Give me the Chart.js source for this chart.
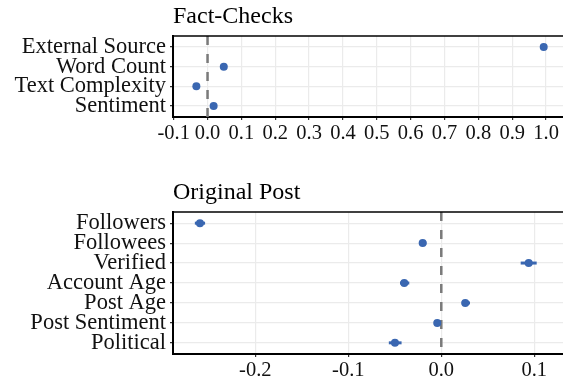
<!DOCTYPE html>
<html>
<head>
<meta charset="utf-8">
<script src="https://cdn.jsdelivr.net/npm/chart.js@4"></script>
<style>
  html, body { margin: 0; padding: 0; background: #fff; }
  #wrap { position: relative; width: 563px; height: 382px; overflow: hidden; }
  canvas { position: absolute; left: 0; }
  #factChart { top: 0; }
  #postChart { top: 176px; }
</style>
</head>
<body>
<div id="wrap">
  <canvas id="factChart" width="563" height="160"></canvas>
  <canvas id="postChart" width="563" height="206"></canvas>
</div>
<script>
// ----------------------
// Data
// ----------------------
const factLabels = ['External Source', 'Word Count', 'Text Complexity', 'Sentiment'];
const factEst  = [0.993, 0.048, -0.033, 0.018];
const factLow  = [0.990, 0.045, -0.036, 0.015];
const factHigh = [0.996, 0.051, -0.030, 0.021];
const factTicks = [-0.1, 0.0, 0.1, 0.2, 0.3, 0.4, 0.5, 0.6, 0.7, 0.8, 0.9, 1.0];

const postLabels = ['Followers', 'Followees', 'Verified', 'Account Age', 'Post Age', 'Post Sentiment', 'Political'];
const postEst  = [-0.2595, -0.0200, 0.0940, -0.0398, 0.0258, -0.0043, -0.0498];
const postLow  = [-0.2650, -0.0240, 0.0854, -0.0444, 0.0219, -0.0080, -0.0564];
const postHigh = [-0.2540, -0.0160, 0.1026, -0.0344, 0.0309, -0.0006, -0.0427];
const postTicks = [-0.2, -0.1, 0.0, 0.1];

const dotColor = '#3a67b1';
const fontFamily = "'Liberation Serif', 'Times New Roman', serif";

// ----------------------
// Extra drawing: error bars, zero line, top border
// ----------------------
const panelExtras = {
  id: 'panelExtras',
  beforeDatasetsDraw(chart, args, opts) {
    const { ctx, chartArea, scales: { x, y } } = chart;
    ctx.save();
    // dashed reference line at 0
    const x0 = x.getPixelForValue(0);
    ctx.strokeStyle = '#7a7a7a';
    ctx.lineWidth = 2.5;
    ctx.setLineDash([9, 9]);
    ctx.beginPath();
    ctx.moveTo(x0, chartArea.top);
    ctx.lineTo(x0, chartArea.bottom);
    ctx.stroke();
    ctx.setLineDash([]);
    // horizontal error bars
    ctx.strokeStyle = dotColor;
    ctx.lineWidth = 3;
    opts.low.forEach((lo, i) => {
      const py = y.getPixelForValue(i);
      ctx.beginPath();
      ctx.moveTo(x.getPixelForValue(lo), py);
      ctx.lineTo(x.getPixelForValue(opts.high[i]), py);
      ctx.stroke();
    });
    ctx.restore();
  },
  afterDraw(chart) {
    const { ctx, chartArea } = chart;
    ctx.save();
    ctx.strokeStyle = '#000';
    ctx.lineWidth = 1.3;
    ctx.beginPath();
    ctx.moveTo(chartArea.left - 1, chartArea.top);
    ctx.lineTo(chartArea.right, chartArea.top);
    ctx.stroke();
    ctx.restore();
  }
};

function makePanel(id, title, labels, est, low, high, xTicks, xMin, xMax, xAxisHeight) {
  const pad = 0.56;
  return new Chart(document.getElementById(id), {
    type: 'scatter',
    data: {
      datasets: [{
        data: est.map((v, i) => ({ x: v, y: i })),
        backgroundColor: dotColor,
        borderWidth: 0,
        pointRadius: 4
      }]
    },
    options: {
      responsive: false,
      animation: false,
      events: [],
      layout: { padding: 0, autoPadding: false },
      plugins: {
        legend: { display: false },
        tooltip: { enabled: false },
        title: {
          display: true,
          text: title,
          align: 'start',
          fullSize: false,
          color: '#000',
          font: { family: fontFamily, size: 24, weight: 'normal', lineHeight: 1.2 },
          padding: { top: 2.5, bottom: 4.7 }
        },
        panelExtras: { low, high }
      },
      scales: {
        x: {
          type: 'linear',
          min: xMin,
          max: xMax,
          afterBuildTicks: s => { s.ticks = xTicks.map(v => ({ value: v })); },
          afterFit: s => { s.height = xAxisHeight; s.paddingLeft = 0; s.paddingRight = 0; },
          ticks: {
            color: '#111',
            font: { family: fontFamily, size: 20.5 },
            padding: 1,
            maxRotation: 0,
            autoSkip: false,
            callback: v => v.toFixed(1)
          },
          grid: { color: '#ebebeb', lineWidth: 1.2, tickColor: '#333', tickLength: 3 },
          border: { display: true, color: '#000', width: 2 }
        },
        y: {
          type: 'linear',
          reverse: true,
          min: -pad,
          max: labels.length - 1 + pad,
          afterBuildTicks: s => { s.ticks = labels.map((_, i) => ({ value: i })); },
          afterFit: s => { s.width = 173; s.paddingTop = 0; s.paddingBottom = 0; },
          ticks: {
            color: '#111',
            font: { family: fontFamily, size: 22.5 },
            padding: 4,
            autoSkip: false,
            callback: v => labels[v]
          },
          grid: { color: '#ebebeb', lineWidth: 1.2, tickColor: '#333', tickLength: 3 },
          border: { display: true, color: '#000', width: 2 }
        }
      }
    },
    plugins: [panelExtras]
  });
}

makePanel('factChart', 'Fact-Checks', factLabels, factEst, factLow, factHigh, factTicks, -0.102, 1.05, 43);
makePanel('postChart', 'Original Post', postLabels, postEst, postLow, postHigh, postTicks, -0.2885, 0.1309, 28);
</script>
</body>
</html>
